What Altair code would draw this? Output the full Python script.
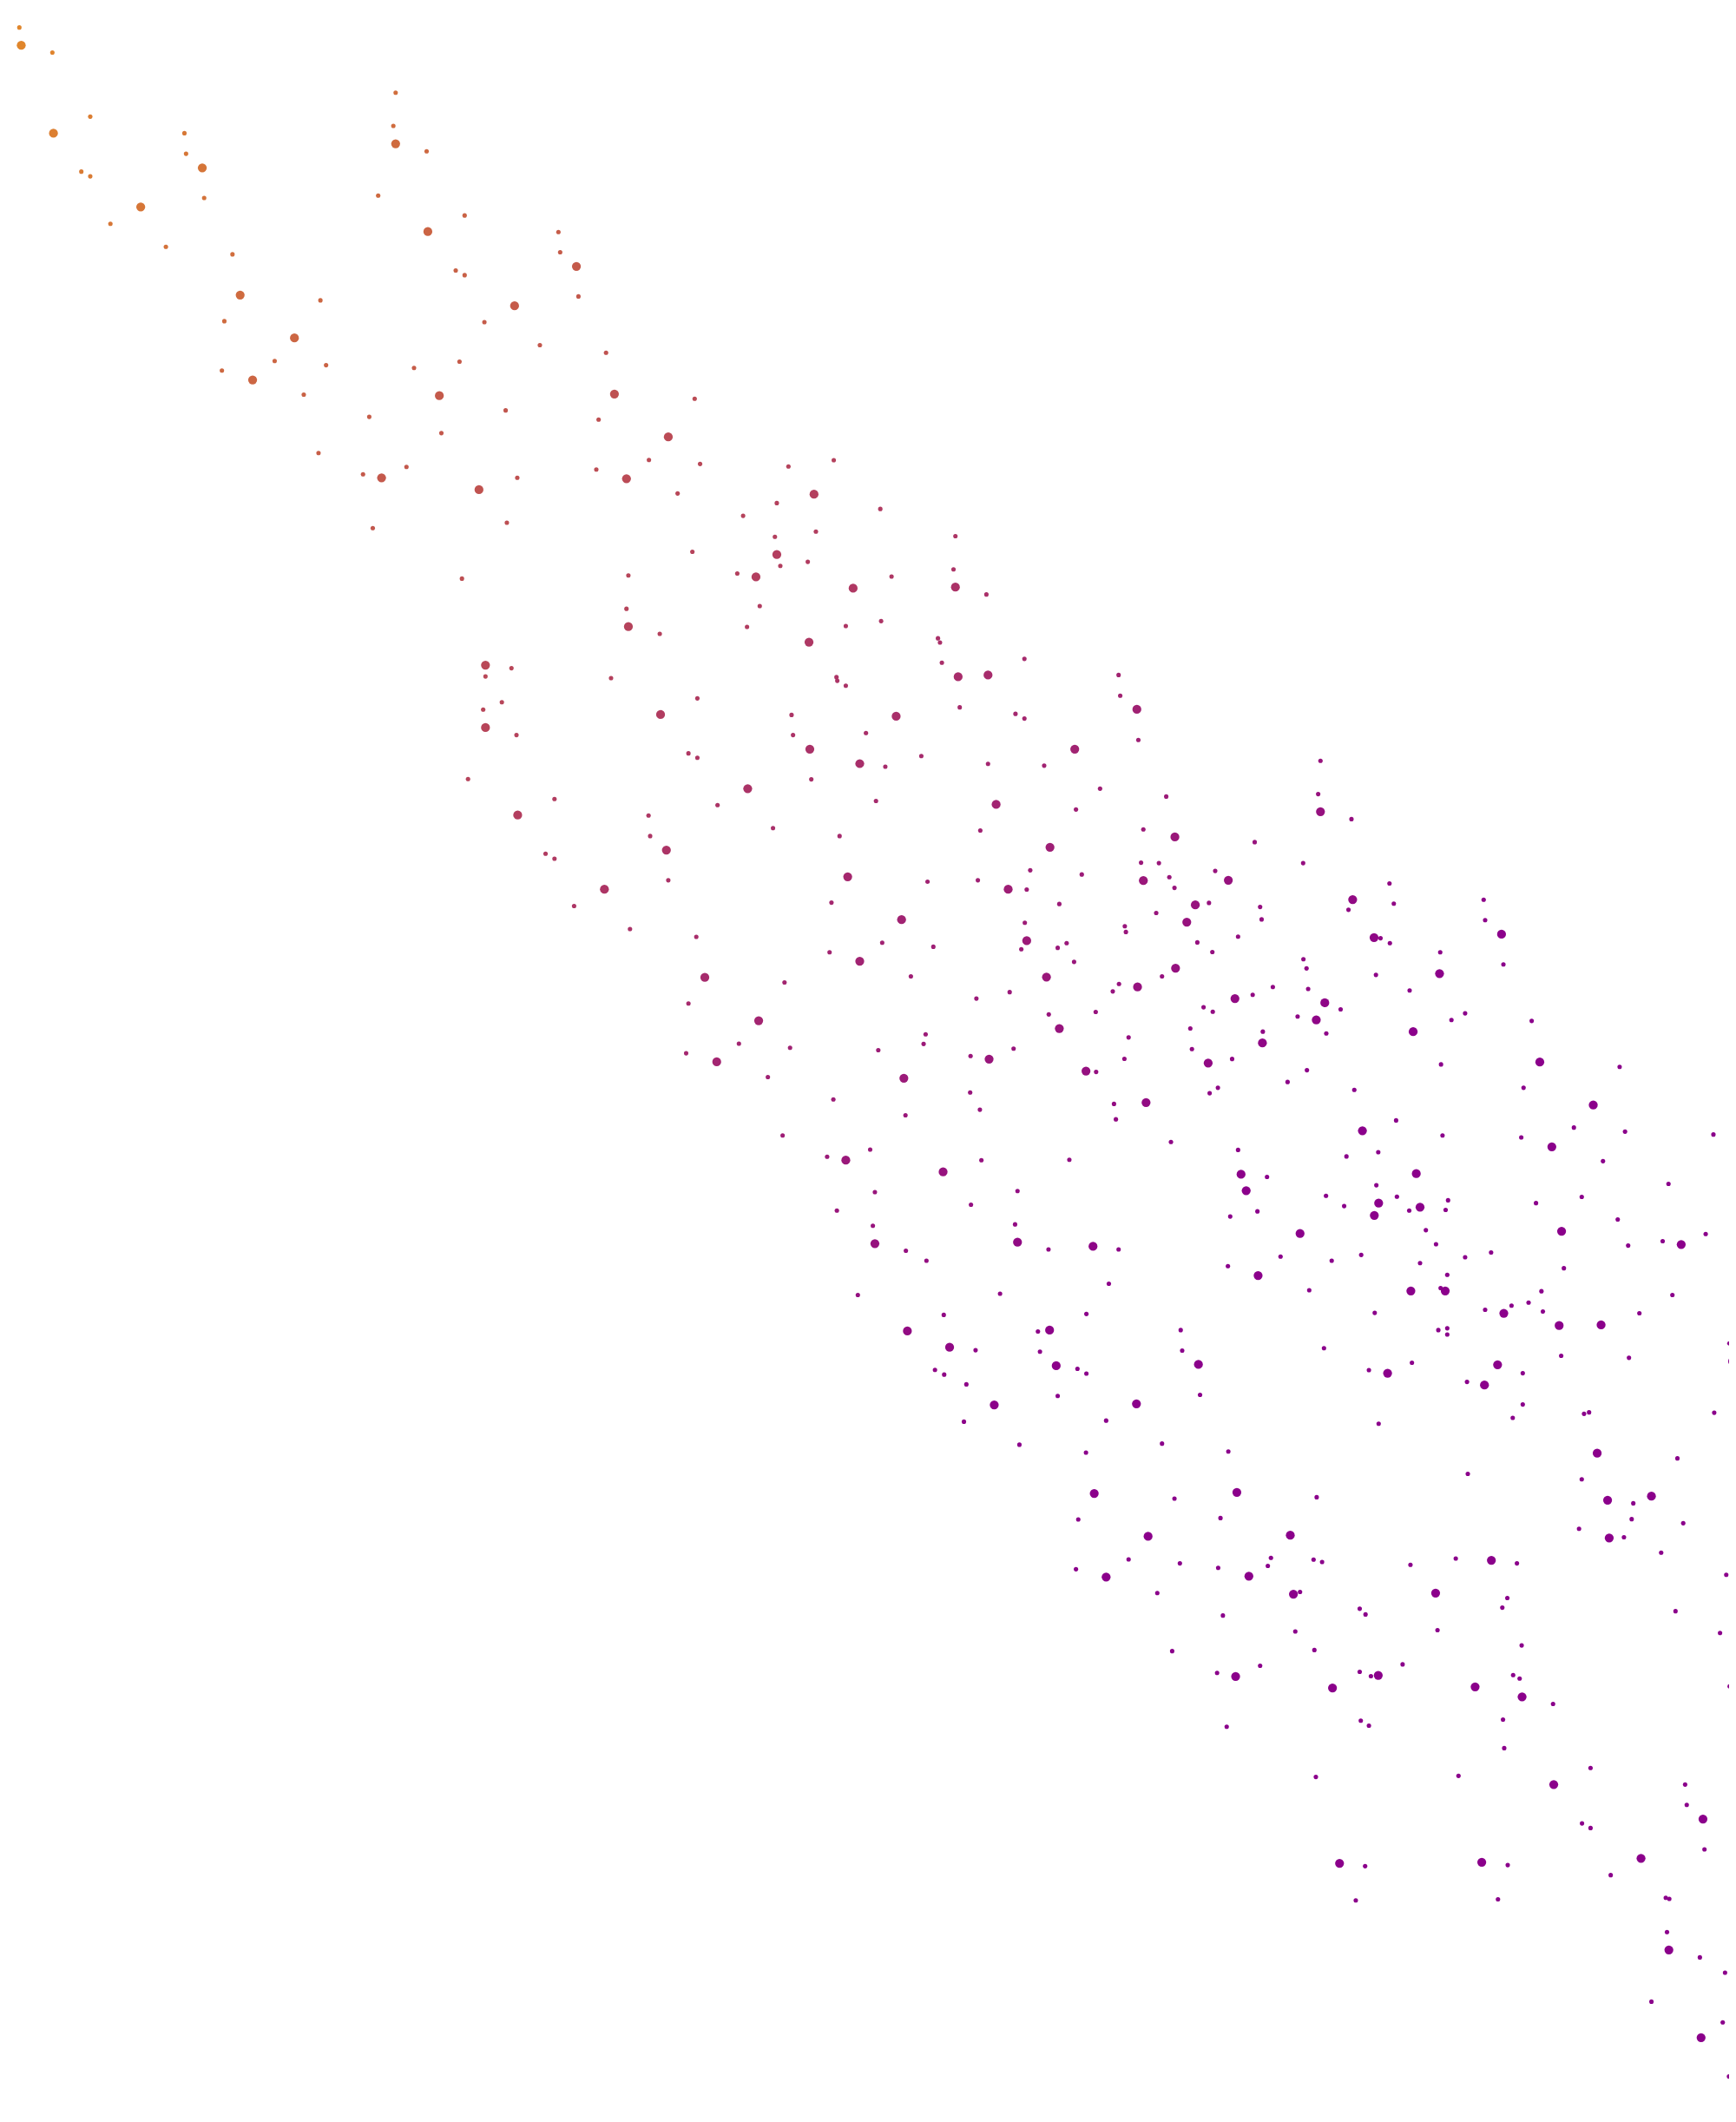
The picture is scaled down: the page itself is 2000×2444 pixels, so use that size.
import altair as alt
import pandas as pd

# Points, in reference-display units (x right, y down); b = 1 for the larger dots
top_left = [
    (14.3,20.3,0),(15.7,33.5,1),(38.7,38.8,0),(2.9,71.5,0),(66.7,86.2,0),(39.5,98.4,1),
    (136.3,98.4,0),(137.5,113.6,0),(149.5,124,1),(60.1,126.8,0),(66.7,130.3,0),(150.9,146.3,0),
    (104,152.9,1),(81.6,165.3,0),(122.6,182.3,0),(171.8,187.9,0),(177.5,218,1),(236.8,221.9,0),
    (165.8,237.3,0),(217.6,249.7,1),(203,266.7,0),(241,269.8,0),(164,273.8,0),(186.7,280.7,1),
    (224.5,291.6,0),(272.9,308,0),(235.4,334.7,0),(268.3,350.4,0),(282,353,1),(300.4,345,0),
    (275.5,390.2,0),(292.4,68.5,0),(290.7,93,0),(292.4,106.2,1),(315.3,111.8,0),(279.5,144.5,0),
    (343.4,159.2,0),(316.2,171.1,1),(336.8,199.8,0),(343.4,203.3,0),(412.7,171.4,0),(414,186.4,0),
    (426,196.8,1),(427.5,219,0),(380.3,225.9,1),(358,238,0),(399,255,0),(447.9,260.6,0),
    (306,271.8,0),(339.6,267.2,0),(324.7,292.3,1),(373.7,303.2,0),(442.4,310,0),(326.2,320,0),
    (440.7,346.9,0),(382.3,353,0),(354,361.8,1),(374.6,386.2,0),
]
left_mid = [
    (341.4,427.5,0),(358.8,491.4,1),(378,493.7,0),(358.8,499.8,0),(370.9,518.8,0),(357.1,524.3,0),
    (358.8,537.5,1),(381.7,543.1,0),(345.9,575.6,0),(409.8,590.3,0),(382.6,602.2,1),(403.2,630.8,0),
    (409.8,634.4,0),
]
top_mid = [
    (454.1,291.1,1),(513.4,294.6,0),(493.9,322.8,1),(479.6,339.8,0),(517.4,342.8,0),(463,353.7,1),
    (500.8,364.6,0),(582.7,344.6,0),(616.2,340,0),(601.6,365.1,1),(574.1,371.7,0),(650.6,376,0),
    (549.2,381.1,0),
]
centre = [
    (572.7,396.6,0),(603,392.8,0),(706.1,396.1,0),(511.7,407.7,0),(574.1,409.7,1),(597,415.1,0),
    (576.7,418.1,0),(464.4,425.2,0),(544.9,423.7,0),(558.7,426.2,1),(630.5,434.6,1),(658.9,426,0),
    (704.7,420.7,0),(706.1,433.8,1),(729,439.2,0),(463,449.8,0),(561.5,447.8,0),(464.4,463,1),
    (487.6,468.3,0),(552.1,463.2,0),(625.1,462.5,0),(651.2,458.9,0),(597.9,474.4,1),(693.2,471.6,0),
    (694.7,474.7,0),(696.1,489.6,0),(757.1,486.8,0),(451.6,501,0),(618.2,500.3,0),(618.8,503,0),
    (625.1,506.6,0),(708.1,500,1),(730.2,498.7,1),(826.7,498.7,0),(827.9,514,0),(515.4,516,0),
    (488.2,527.9,1),(585,528.2,0),(662.3,529.2,1),(709.3,522.6,0),(750.5,527.4,0),(757.1,530.9,0),
    (840.2,524.1,1),(586.1,543.1,0),(640,541.6,0),(841.3,546.7,0),(598.5,553.5,1),(508.8,556.6,0),
    (515.4,559.9,0),(635.4,564.2,1),(654.3,566.4,0),(680.9,558.6,0),(730.2,564.4,0),(771.7,565.7,0),
    (794.3,553.5,1),(599.6,575.8,0),(552.6,582.7,1),(530.3,594.8,0),(647.4,591.8,0),(736.2,594.3,1),
    (813,582.7,0),(795.2,598.1,0),(861.9,588.5,0),(479.3,602.5,0),(480.5,617.7,0),(492.5,628.1,1),
    (571.3,611.8,0),(620.5,617.7,0),(724.5,613.6,0),(776,626,1),(845,612.8,0),(868.3,618.4,1),
    (843.3,637.4,0),(856.5,637.7,0),(845,650.6,1),(864.2,648.1,0),(799.5,646.1,0),(761.4,643,0),
    (745.1,657,1),(758.8,657.2,0),(722.7,650.4,0),(685.5,651.4,0),(626.5,647.8,1),(493.9,650.4,0),
    (446.7,657,1),(424.3,669.4,0),(614.5,666.9,0),(782.9,667.9,0),(854.5,674.5,0),(831.3,684.3,0),
    (832.1,688.6,0),(666.3,679.5,1),(757.4,681.8,0),(758.8,695,1),(754.8,701.3,0),(781.7,700.3,0),
    (788.3,696.8,0),(793.8,710.7,0),(465.6,686.4,0),(514.6,692.2,0),(613.1,703.6,0),(652,696.5,0),
    (689.8,699.5,0),(635.4,710.2,1),(520.9,722.1,1),(579.8,725.9,0),(673.2,721.4,0),(773.4,721.9,1),
    (827,727,0),(822.4,732.5,0),(840.7,729.2,1),(858.8,721.4,0),(868.8,715.3,1),(746.2,733,0),
    (721.6,737.8,0),(508.8,741.4,0),(775.1,749.5,0),(809.8,747.7,0),(560.7,754.1,1),(782.9,759.9,1),
    (684.1,764.2,0),(682.6,771.3,0),(834.1,766.5,0),(546.1,771.1,0),(583.9,774.1,0),(507.1,778.2,0),
    (649.1,775.9,0),(717.3,780.2,0),(731,782.5,1),(749.1,774.8,0),(529.7,784.5,1),(831,782.3,0),
]
lower_mid = [
    (567.5,795.8,0),(668,796.6,1),(802.6,791.3,1),(810.1,792,0),(615.9,812.3,0),(717,807.2,0),
    (724.2,819.9,0),(669.2,824,0),(823.3,815.6,0),(847,814.6,1),(824.7,827,0),(865.4,843.7,0),
    (578.4,838.9,0),(611.3,854.6,0),(625.1,857.2,1),(643.1,849.3,0),(697,865.8,1),(725.3,857.2,0),
    (790.3,856.9,0),(646.6,880.8,0),(752,880,0),(618.5,894.4,0),(717.6,890.1,0),(645.1,905.6,0),
    (750.2,904.6,0),(646.6,918.8,1),(669.5,924.1,0),(684.7,931.5,0),(752,917.8,1),(774.9,923.1,0),
    (807.8,920.8,1),(826.7,923.1,0),(819.5,948.5,0),(634,956.8,0),(739.1,955.8,0),(697.5,971.5,0),
    (802.9,970.8,0),(670.6,983.4,1),(767.1,983.7,0),(775.7,982.7,1),(701.8,995.4,1),(721,997.6,0),
    (768.6,998.7,0),(691,1012.1,0),(697.8,1015.6,0),(780.6,1009,1),(796.3,1011.3,0),(802.9,1014.9,0),
    (714.2,1022.8,0),(781.7,1031.4,0),(734.8,1038,1),(839.9,1037.2,1),(712.4,1050.4,0),(817.5,1049.6,0),
    (753.4,1067.4,0),(802.6,1073.2,0),(858.8,1066.6,0),(808.7,1103.4,1),(796.9,1122.6,0),(848.5,1135.1,1),
    (834.1,1152.1,0),(795.2,1159.4,0),(817.5,1165.2,1),(855.3,1177,0),
]
right_upper = [
    (975.9,562.1,0),(974.2,586.7,0),(975.9,599.7,1),(998.8,605.2,0),(927.3,622.2,0),(963.1,637.7,0),
    (898.1,643.5,0),(907.8,650.4,1),(868,656,0),(1026.9,652.7,0),(883.4,668.6,1),(893.5,667.1,0),
    (931.3,670.1,0),(932.4,679.3,0),(999.7,664.6,1),(996.6,672.2,0),(1030.1,667.6,0),(1096.5,664.8,0),
    (1097.6,679.8,0),(877.1,681.3,1),(884.9,696.3,0),(896,703.4,0),(915,692,0),(1015.5,692.7,1),
    (1020.3,693.2,0),(1027.2,696.8,0),(1109.7,690.2,1),(1064.4,703.6,0),(1111.1,712.5,0),(963.3,708.7,0),
    (965.6,715.5,0),(1016.9,720.3,0),(1063.9,719.3,1),(912.7,737.8,1),(925.8,735,0),(940.7,729.2,0),
    (966.8,730.7,0),(979.1,740.9,1),(990.8,745.7,0),(1041.8,731.8,0),(889.5,744.2,0),(896.3,747.5,0),
    (959,751,0),(972.8,753.6,1),(1072.7,753.6,0),(1082.8,748.7,0),(1132,754.3,0),(879.7,759.9,0),
    (933.3,762.2,0),(980.2,763.5,0),(1044.4,762.2,1),(933,770.6,1),(880.9,775.1,0),
]
right_mid = [
    (892.9,785.4,1),(910.6,782.4,0),(965.9,790.7,0),(1065,786.4,0),(1138,784.7,1),(1197,788.2,0),
    (900.1,803.7,0),(894,807.7,0),(951.6,799.4,0),(1000.9,805.2,0),(1126,803.7,0),(1177.5,816.4,1),
    (915,849.6,0),(1006.9,835.4,1),(1031.8,827.8,0),(1066.1,838.9,0),(1124.3,840.4,0),(1163.2,833.1,0),
    (1201,836.1,0),(1266.3,838.2,0),(1146.9,847.3,1),(1284,858.7,1),(1184.7,857.9,0),(917.2,867.6,1),
    (936.4,869.6,0),(995.1,854.4,0),(1018.6,851.3,0),(1046.7,867.1,1),(921,879.7,1),(929.3,895,0),
    (909.2,898.8,0),(980,883.5,0),(993.4,891.1,0),(1017.2,875.7,0),(1032.4,884.1,0),(1018.9,888.9,1),
    (1015.7,898,1),(1041.5,894.4,0),(1049.5,891.9,1),(1070.2,886.8,0),(1068.4,893.9,0),(1135.2,888.9,0),
    (1169,884.3,0),(1233.1,874.7,0),(960.8,911.4,1),(1053.8,908.9,0),(1061.3,919.3,0),(1154.1,909.7,1),
    (1195.6,901,0),(1203.3,920.3,0),(1228.8,917,0),(1242.5,919.5,1),(1260.6,911.7,0),(946.4,928.4,0),
    (984.2,931.5,0),(1006,927.2,0),(1082.8,928.9,0),(1102,925.4,0),(1049.5,933.2,0),(907.5,935.5,0),
    (929.8,942.4,1),(1155.8,937,0),(1069.6,941.9,0),(967.6,953.3,0),(1042.7,953.8,1),(1064.7,951.7,0),
    (1068.1,953.8,1),(1139.2,954,0),(1129.7,962.4,0),(1117.1,964.7,0),(1097.6,967.7,0),(1111.4,970.3,1),
    (1140.3,969,0),(1236,956.8,0),(1211.6,970.3,0),(1279.8,968,0),(1016,970,0),(1063,982.7,0),
    (1069.6,981.4,0),(1069.6,986,0),(1152.3,979.4,1),(1183.3,978.9,1),(872.6,982.7,0),(873.7,997.9,0),
    (978.5,996.1,0),(885.7,1008.1,1),(1043.5,1006.8,0),(1011.7,1012.3,0),(1025.5,1014.6,1),(1106.8,1008.3,1),
    (1125.4,1014.6,0),(1153.8,1001.7,0),(1203.9,1003.2,0),(1278.1,992.6,0),(1280.5,1005.8,1),(1084.2,1021,0),
    (1097.1,1023.3,1),(886.9,1030.6,0),(1125.4,1037.7,0),(1118,1047.6,0),(1170.7,1044.6,0),(1174.4,1043.5,0),
    (1266.9,1043.8,0),(1018.9,1051.9,0),(907.8,1072.4,0),(1180.4,1073.7,1),(1239.7,1077.5,0),(1084.8,1088.9,0),
    (1169,1093,0),(868,1107.2,0),(914.1,1102.6,1),(973.1,1106.2,0),(1188.1,1108.4,1),(1207.1,1110.7,0),
    (1220.5,1105.4,1),(1205.9,1122.4,0),(1167,1129.5,0),(1244,1125.4,0),(1189.3,1136.3,1),(1200.2,1135.8,0),
    (953.6,1134.3,1),(902,1121.6,0),(1227.7,1147.2,0),(872,1155.1,0),(900.3,1158.4,0),(939.3,1151,0),
    (937,1156.9,0),(923,1164.5,1),(970.8,1152.3,0),(977.1,1154.1,0),(1042.4,1156.1,0),(1075.9,1151.5,0),
    (1102.2,1152.8,1),(1121.1,1155.1,0),(1275.8,1163.5,0),
]
right_low = [
    (955.9,1177.8,1),(960.8,1176.2,0),(1061,1177,1),(1114,1180.7,0),(1110.3,1187.8,0),(1238.3,1190.4,0),
    (1271.2,1206.5,0),(1284,1209,1),(903.8,1193.6,0),(1004.9,1188.6,0),(1009.2,1192.8,0),(957.3,1205.4,0),
    (1062.4,1204.4,0),(866.3,1219.9,0),(971.4,1219.1,0),(1124.6,1215.7,0),(899.5,1236,0),(913.2,1238.6,1),
    (931.3,1230.7,0),(1036.6,1229.7,0),(1004.9,1235.2,0),(1013.2,1238.4,0),(1018.6,1237.8,1),(984.8,1247.1,1),
    (1090.2,1246.3,1),(1118.3,1237.6,0),(1123.1,1240.2,0),(1124.9,1253.7,1),(1147.8,1258.9,0),(1278.3,1246,0),
    (906.6,1275.8,0),(1005.7,1271.3,0),(1011.7,1275,0),(1110.8,1270.5,0),(1111.7,1291.6,0),(972.5,1312.9,0),
    (1077.9,1312.1,0),(1148.3,1318.5,1),(1175.5,1306.3,0),(1245.4,1318.5,0),(1246.6,1333.5,0),(1258.6,1344,1),
    (1169.2,1347.2,0),(1175.5,1350.6,0),(1259.7,1366.4,0),(990,1376.7,1),(1008.9,1378.8,0),(1095.1,1375.9,1),
    (1114.3,1378,0),(1212.8,1373,1),(1190.4,1385.4,0),(1002,1404.1,0),(1107.1,1403.3,0),(1231.1,1402.2,0),
    (1233.7,1403,0),(1280.6,1408.3,0),(1232,1427.5,0),(1233.4,1440.7,1),(1256.3,1446.2,0),(1274.9,1457.5,0),
    (1220.5,1478.9,0),(1273.2,1494.2,0),(1257.2,1505.5,1),(1277.8,1534.2,0),
]

dot_sizes = [26, 105]
color_stops = ["#e0862c", "#8b008b"]

rows = []
for group in (top_left, left_mid, top_mid, centre, lower_mid, right_upper, right_mid, right_low):
    for x, y, b in group:
        rows.append({"x": x, "y": y, "big": b})
df = pd.DataFrame(rows)

k = 2000 / 1283
W, H = 1984, 2400

chart = (
    alt.Chart(df)
    .mark_circle(opacity=1)
    .transform_calculate(t="datum.x + datum.y")
    .encode(
        x=alt.X("x:Q", axis=None, scale=alt.Scale(domain=[8 / k, (8 + W) / k], nice=False, zero=False)),
        y=alt.Y("y:Q", axis=None, scale=alt.Scale(domain=[8 / k, (8 + H) / k], nice=False, zero=False, reverse=True)),
        size=alt.Size("big:Q", legend=None, scale=alt.Scale(domain=[0, 1], range=dot_sizes)),
        color=alt.Color("t:Q", legend=None,
                        scale=alt.Scale(domain=[48, 1800], range=color_stops, interpolate="rgb", clamp=True)),
    )
    .properties(width=W, height=H, padding=0, autosize=alt.AutoSizeParams(type="none"),
                background="white")
    .configure_view(stroke=None)
)

chart.save("out.html", embed_options={"renderer": "svg", "actions": False})
